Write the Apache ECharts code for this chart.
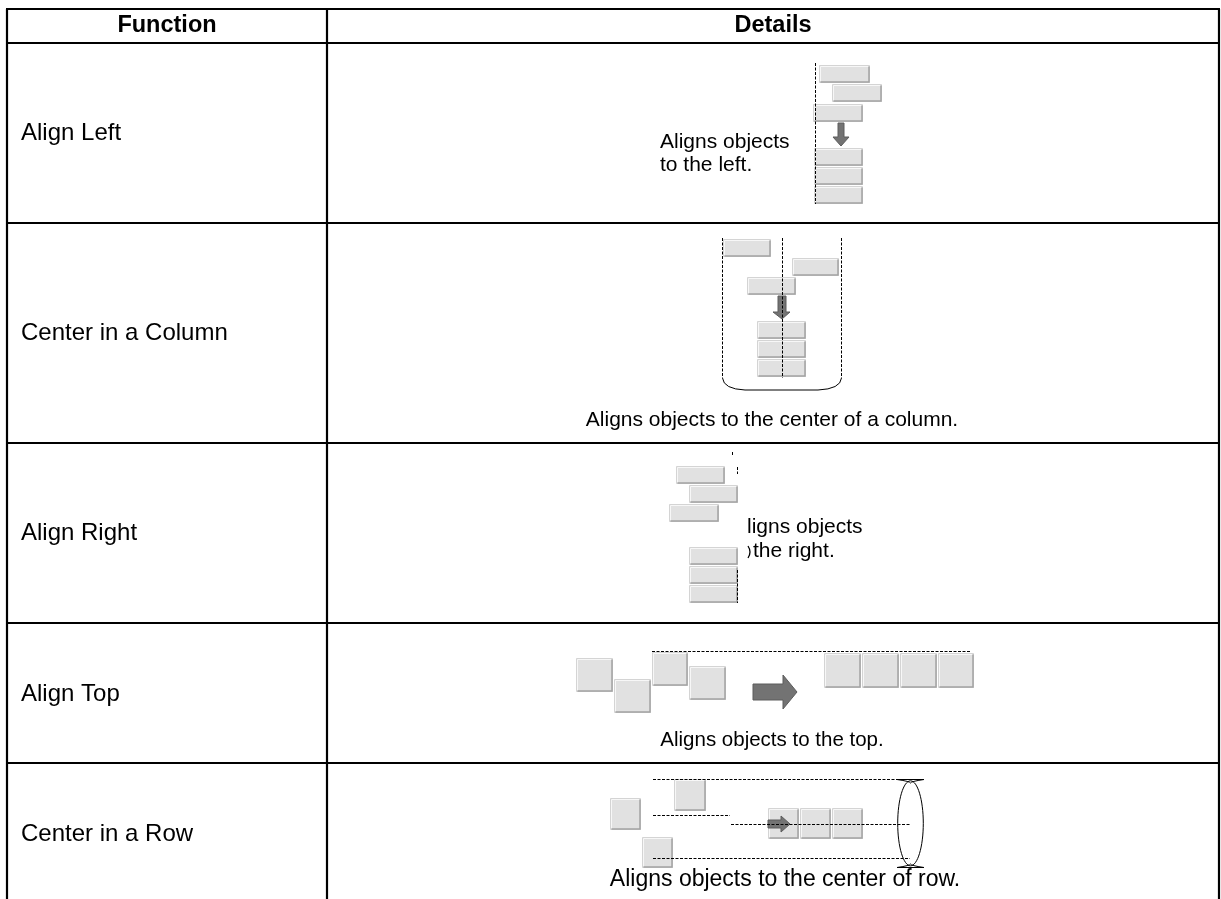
<!DOCTYPE html>
<html><head><meta charset="utf-8">
<script src="https://cdn.jsdelivr.net/npm/echarts@6/dist/echarts.min.js"></script>
<style>html,body{margin:0;padding:0;background:#fff}#c{width:1221px;height:899px}</style>
</head><body><div id="c"></div>
<script>
// ---------- content ----------
const headers = ['Function', 'Details'];
const functionNames = ['Align Left', 'Center in a Column', 'Align Right', 'Align Top', 'Center in a Row'];
const alignLeftText = ['Aligns objects', 'to the left.'];
const alignRightText = ['ligns objects', 'the right.'];
const captions = ['Aligns objects to the center of a column.', 'Aligns objects to the top.', 'Aligns objects to the center of row.'];

// ---------- layout (page units, mapped through hidden value axes) ----------
const FONT = '"Liberation Sans", Arial, Helvetica, sans-serif';
const colEdges = [7, 327, 1219];
const rowEdges = [9, 43, 223, 443, 623, 763];
const tableBottom = 899;

const boxes = [
  // align left
  [819,65,870,83],[832,84,882,102],[813,104,863,122],[814,148,863,166],[814,167,863,185],[814,186,863,204],
  // center in a column
  [723,239,771,257],[792,258,839,276],[747,277,796,295],[757,321,806,339],[757,340,806,358],[757,359,806,377],
  // align right
  [676,466,725,484],[689,485,738,503],[669,504,719,522],[689,547,738,565],[689,566,738,584],[689,585,738,603],
  // align top
  [576,658,613,692],[614,679,651,713],[652,652,688,686],[689,666,726,700],
  [824,653,861,688],[862,653,899,688],[900,653,937,688],[938,653,974,688],
  // center in a row
  [610,798,641,830],[674,779,706,811],[642,837,673,868],[768,808,799,839],[800,808,831,839],[832,808,863,839]
];
const dashLines = [
  [815,63,815,204],
  [722,238,722,378],[782,238,782,378],[841,238,841,378],
  [732,452,732,456],[737,467,737,474],[737,570,737,603],
  [652,651,971,651],
  [653,779,910,779],[653,815,730,815],[731,824,910,824],[653,858,910,858]
];
const arrows = [
  [[838,123],[844,123],[844,137],[849,137],[841,146],[833,137],[838,137]],
  [[778,296],[786,296],[786,312],[790,312],[782,319],[773,312],[778,312]],
  [[753,684],[783,684],[783,675],[797,692],[783,709],[783,700],[753,700]],
  [[768,820],[781,820],[781,816],[790,824],[781,832],[781,828],[768,828]]
];
const texts = [
  {t: headers[0], x: 167, y: 26, a: 'center', s: 23.5, b: true},
  {t: headers[1], x: 773, y: 26, a: 'center', s: 23.5, b: true},
  {t: functionNames[0], x: 21, y: 133, a: 'left', s: 24},
  {t: functionNames[1], x: 21, y: 333, a: 'left', s: 24},
  {t: functionNames[2], x: 21, y: 533, a: 'left', s: 24},
  {t: functionNames[3], x: 21, y: 694, a: 'left', s: 24},
  {t: functionNames[4], x: 21, y: 834, a: 'left', s: 24},
  {t: alignLeftText[0], x: 660, y: 142, a: 'left', s: 21},
  {t: alignLeftText[1], x: 660, y: 165, a: 'left', s: 21},
  {t: alignRightText[0], x: 747, y: 527, a: 'left', s: 21},
  {t: alignRightText[1], x: 753, y: 551, a: 'left', s: 21},
  {t: captions[0], x: 772, y: 420, a: 'center', s: 21},
  {t: captions[1], x: 772, y: 740, a: 'center', s: 20.5},
  {t: captions[2], x: 785, y: 880, a: 'center', s: 23}
];

const chart = echarts.init(document.getElementById('c'), null, {renderer: 'canvas'});

function seq(n) { return Array.from({length: n}, (_, i) => [i]); }

const tableLines = [];
colEdges.forEach(x => tableLines.push([x, rowEdges[0], x, tableBottom]));
rowEdges.forEach(y => tableLines.push([colEdges[0] - 1, y, colEdges[2] + 1, y]));

chart.setOption({
  animation: false,
  backgroundColor: '#fff',
  grid: {left: 0, right: 0, top: 0, bottom: 0},
  xAxis: {type: 'value', min: 0, max: 1221, show: false},
  yAxis: {type: 'value', min: 0, max: 899, inverse: true, show: false},
  series: [
    { // table rules
      type: 'custom', clip: false, data: tableLines, z: 1,
      renderItem: (p, api) => {
        const a = api.coord([api.value(0), api.value(1)]), b = api.coord([api.value(2), api.value(3)]);
        return {type: 'line', shape: {x1: a[0], y1: a[1], x2: b[0], y2: b[1]}, style: {stroke: '#000', lineWidth: 2.2}};
      }
    },
    { // boxes
      type: 'custom', clip: false, data: boxes, z: 2,
      renderItem: (p, api) => {
        const a = api.coord([api.value(0), api.value(1)]), b = api.coord([api.value(2), api.value(3)]);
        const x1 = Math.round(a[0]) + 0.5, y1 = Math.round(a[1]) + 0.5, x2 = Math.round(b[0]) - 0.5, y2 = Math.round(b[1]) - 0.5;
        return {type: 'group', children: [
          {type: 'rect', shape: {x: x1, y: y1, width: x2 - x1, height: y2 - y1}, style: {fill: '#e1e1e1', stroke: '#d4d4d4', lineWidth: 1}},
          {type: 'polyline', shape: {points: [[x1 + 1, y2 - 1], [x1 + 1, y1 + 1], [x2 - 1, y1 + 1]]}, style: {stroke: '#f7f7f7', lineWidth: 1, fill: null}},
          {type: 'polyline', shape: {points: [[x1 + 1, y2 - 0.5], [x2 - 0.5, y2 - 0.5], [x2 - 0.5, y1 + 1]]}, style: {stroke: '#a2a2a2', lineWidth: 1.5, fill: null}}
        ]};
      }
    },
    { // arrows
      type: 'custom', clip: false, data: seq(arrows.length), z: 3,
      renderItem: (p, api) => {
        const pts = arrows[p.dataIndex].map(q => api.coord(q));
        return {type: 'polygon', shape: {points: pts}, style: {fill: '#737373', stroke: '#5c5c5c', lineWidth: 1}};
      }
    },
    { // dashed guide lines
      type: 'custom', clip: false, data: dashLines, z: 4,
      renderItem: (p, api) => {
        const a = api.coord([api.value(0), api.value(1)]), b = api.coord([api.value(2), api.value(3)]);
        const h = Math.abs(a[1] - b[1]) < 0.1;
        const x1 = h ? a[0] : Math.round(a[0]) + 0.5, x2 = h ? b[0] : Math.round(b[0]) + 0.5;
        const y1 = h ? Math.round(a[1]) + 0.5 : a[1], y2 = h ? Math.round(b[1]) + 0.5 : b[1];
        return {type: 'line', shape: {x1, y1, x2, y2}, style: {stroke: '#000', lineWidth: 1, lineDash: [3, 1.5]}};
      }
    },
    { // bracket / oval shapes
      type: 'custom', clip: false, data: [[0]], z: 4,
      renderItem: (p, api) => {
        const c = q => api.coord(q);
        const L = c([722.5, 378]), R = c([841.5, 378]), bl = c([745, 390]), br = c([818, 390]);
        const o = c([910.5, 823.3]), t1 = c([897, 779.5]), t2 = c([924, 779.5]), b1 = c([897, 867.5]), b2 = c([924, 867.5]);
        const sl1 = c([748, 546]), sl2 = c([751, 552]), sl3 = c([748, 558]);
        return {type: 'group', children: [
          {type: 'path', shape: {pathData: `M${L[0]},${L[1]} Q${L[0] + 1},${bl[1] - 1} ${bl[0]},${bl[1]} L${br[0]},${br[1]} Q${R[0] - 1},${br[1] - 1} ${R[0]},${R[1]}`}, style: {stroke: '#000', lineWidth: 1, fill: null}},
          {type: 'ellipse', shape: {cx: o[0], cy: o[1], rx: 12.8, ry: 42.5}, style: {stroke: '#000', lineWidth: 1, fill: null}},
          {type: 'path', shape: {pathData: `M${t1[0]},${t1[1]} L${t2[0]},${t2[1]} M${t1[0]},${t1[1]} Q${o[0]},${t1[1] + 2} ${o[0]},${t1[1] + 3.5} M${t2[0]},${t2[1]} Q${o[0]},${t1[1] + 2} ${o[0]},${t1[1] + 3.5} M${b1[0]},${b1[1]} L${b2[0]},${b2[1]} M${b1[0]},${b1[1]} Q${o[0]},${b1[1] - 2} ${o[0]},${b1[1] - 3.5} M${b2[0]},${b2[1]} Q${o[0]},${b1[1] - 2} ${o[0]},${b1[1] - 3.5}`}, style: {stroke: '#000', lineWidth: 1, fill: null}},
          {type: 'path', shape: {pathData: `M${sl1[0]},${sl1[1]} Q${sl2[0] + 1},${sl2[1]} ${sl3[0]},${sl3[1]}`}, style: {stroke: '#000', lineWidth: 1.3, fill: null}}
        ]};
      }
    },
    { // texts
      type: 'custom', clip: false, data: seq(texts.length), z: 5,
      renderItem: (p, api) => {
        const d = texts[p.dataIndex];
        const q = api.coord([d.x, d.y]);
        return {type: 'text', x: q[0], y: q[1], style: {text: d.t, fill: '#000', font: `${d.b ? 'bold ' : ''}${d.s}px ${FONT}`, textAlign: d.a, textVerticalAlign: 'middle'}};
      }
    }
  ]
});
</script></body></html>
